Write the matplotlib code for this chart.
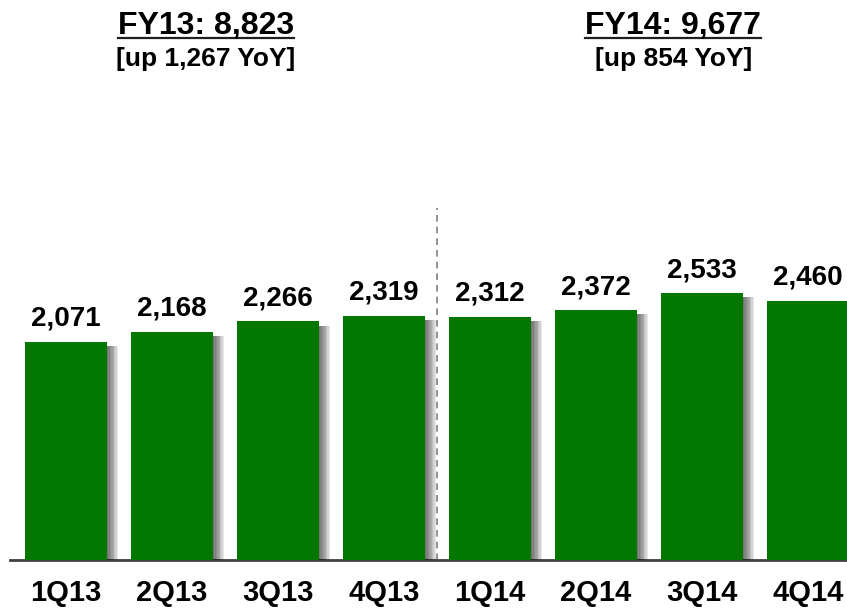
import matplotlib
matplotlib.use("Agg")
import matplotlib.pyplot as plt
import matplotlib.patheffects as pe
from matplotlib.lines import Line2D
import numpy as np

quarters = ["1Q13", "2Q13", "3Q13", "4Q13", "1Q14", "2Q14", "3Q14", "4Q14"]
values = [2071, 2168, 2266, 2319, 2312, 2372, 2533, 2460]
fy_titles = ["FY13: 8,823", "FY14: 9,677"]
fy_subtitles = ["[up 1,267 YoY]", "[up 854 YoY]"]
fy_centers = [1.32, 5.73]

green = "#007800"
plt.rcParams["font.family"] = ["Liberation Sans", "DejaVu Sans"]

fig = plt.figure(figsize=(8.47, 6.09), dpi=100)
ax = fig.add_axes([10 / 847, 49 / 609, 1 - 10 / 847, 560 / 609])
x = np.arange(len(quarters))

# soft grey shadow to the right of each bar
shadow = [pe.SimplePatchShadow(offset=(k, -3), shadow_rgbFace="k", alpha=0.09)
          for k in range(1, 9)] + [pe.Normal()]
bars = ax.bar(x, values, width=0.774, color=green, zorder=3)
for b in bars:
    b.set_path_effects(shadow)

for xi, v in zip(x, values):
    ax.annotate(f"{v:,}", (xi, v), xytext=(0, 11.5), textcoords="offset points",
                ha="center", va="baseline", fontsize=20, fontweight="bold")

ax.set_xlim(-0.528, 7.368)
ax.set_ylim(0, 5318)
ax.axvline(3.5, ymin=0, ymax=3343 / 5318, color="#808080", ls=(0, (4, 3)), lw=1.2)

for s in ["top", "right", "left"]:
    ax.spines[s].set_visible(False)
ax.spines["bottom"].set_color("#404040")
ax.spines["bottom"].set_linewidth(2)
ax.set_yticks([])
ax.set_xticks(x)
ax.set_xticklabels(quarters, fontsize=21, fontweight="bold")
ax.tick_params(axis="x", length=0, pad=14)

titles = []
for cx, t, st in zip(fy_centers, fy_titles, fy_subtitles):
    tx = ax.transData.transform((cx, 0))[0] / 847
    titles.append(fig.text(tx, 1 - 34 / 609, t, ha="center", va="baseline",
                           fontsize=23, fontweight="bold"))
    fig.text(tx, 1 - 66 / 609, st, ha="center", va="baseline",
             fontsize=19, fontweight="bold")

fig.canvas.draw()
r = fig.canvas.get_renderer()
for t in titles:
    bb = t.get_window_extent(r)
    y = (609 - 38) / 609
    fig.add_artist(Line2D([bb.x0 / 847, bb.x1 / 847], [y, y], color="#202020", lw=1.6))

fig.savefig("out.png", dpi=100)
